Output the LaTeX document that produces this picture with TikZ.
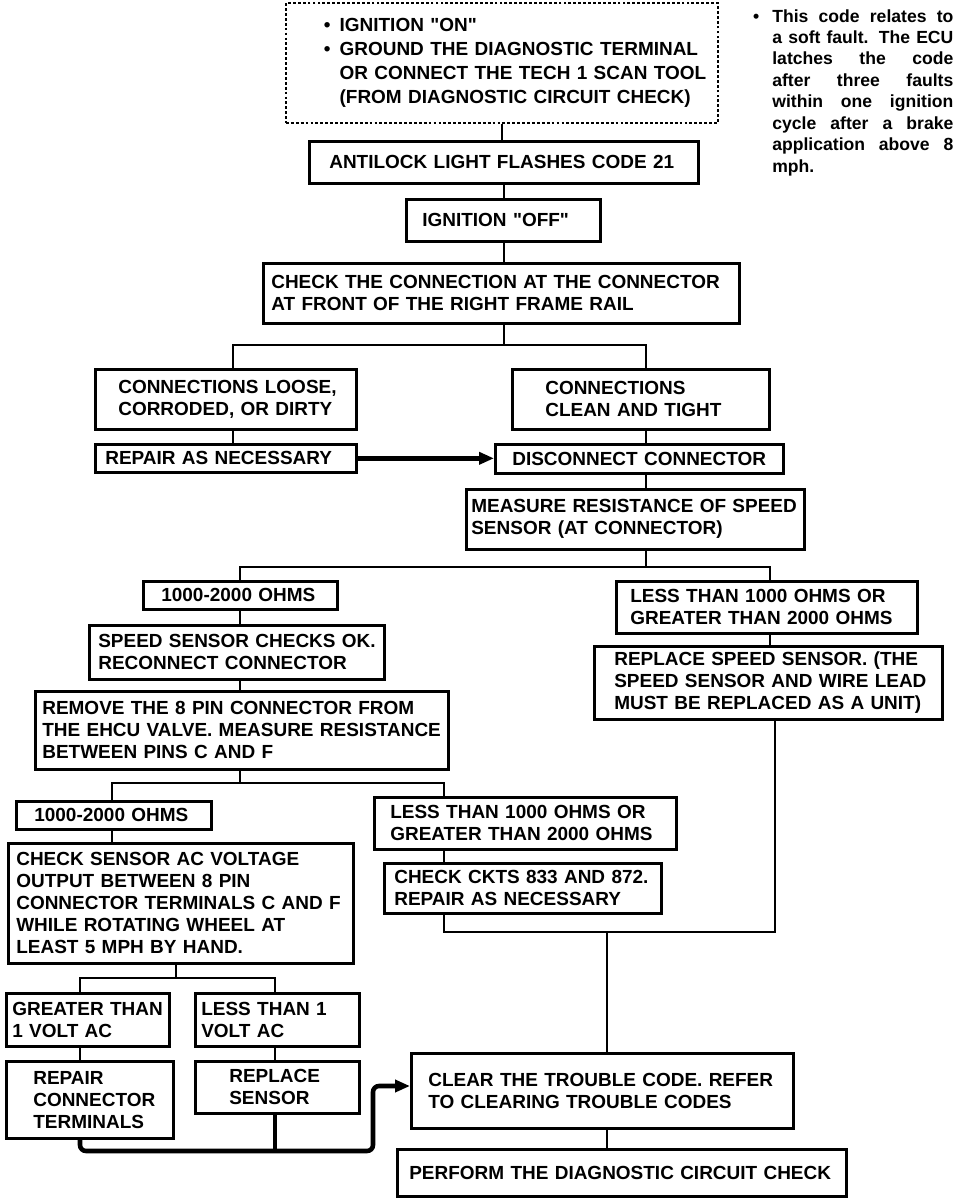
\documentclass[tikz,border=0pt]{standalone}
\usepackage{fontspec}
\setmainfont{Liberation Sans}
\usetikzlibrary{arrows.meta}
\newdimen\pxu \pxu=0.2mm

\begin{document}
\begin{tikzpicture}
[x=0.2mm, y=-0.2mm,
 panel/.style n args={3}{draw, line width=1.5pt, anchor=north west, inner sep=0pt, align=left,
   text width=#1*0.2mm, minimum height=#2*0.2mm,
   font=\fontsize{10.8}{12.5}\selectfont\bfseries,
   execute at begin node={\leftskip=#3\pxu\rightskip=0pt plus 1fil minus 60pt}},
 dotbox/.style={line width=1.1pt, dash pattern=on 1.6pt off 1.2pt},
 note/.style={anchor=north west, inner sep=0pt, text width=181*0.2mm, align=justify,
   font=\fontsize{10}{12.2}\selectfont\bfseries},
 link/.style={line width=1.1pt},
 flow/.style={line width=2.6pt, rounded corners=1.2mm, -{Triangle[length=3mm,width=2.4mm]}}]
\useasboundingbox (0,0) rectangle (960,1198);

\node[panel={432}{120}{38}, dotbox, font=\fontsize{10.8}{13.6}\selectfont\bfseries] (start) at (285,2)
  {\begin{tabular}{@{}l@{\hspace{1.8mm}}l@{}}
   \textbullet & IGNITION \textquotedbl ON\textquotedbl\\
   \textbullet & GROUND THE DIAGNOSTIC TERMINAL\\
   & OR CONNECT THE TECH 1 SCAN TOOL\\
   & (FROM DIAGNOSTIC CIRCUIT CHECK)
   \end{tabular}};
\node[note] (remark) at (772,9) {\llap{\textbullet\hspace{2.6mm}}This code relates to\linebreak
  a soft fault. The ECU\linebreak latches the code\linebreak after three faults\linebreak
  within one ignition\linebreak cycle after a brake\linebreak application above 8\linebreak mph.};

\node[panel={389}{42}{20}] (antilock) at (308,140) {ANTILOCK LIGHT FLASHES CODE 21};
\node[panel={194}{42}{16}] (ignoff) at (405,198) {IGNITION \textquotedbl OFF\textquotedbl};
\node[panel={476}{60}{8}] (chk) at (262,262) {CHECK THE CONNECTION AT THE CONNECTOR\\AT FRONT OF THE RIGHT FRAME RAIL};

\node[panel={261}{60}{23}] (loose) at (94,368) {CONNECTIONS LOOSE,\\CORRODED, OR DIRTY};
\node[panel={257}{60}{33}] (clean) at (511,368) {CONNECTIONS\\CLEAN AND TIGHT};
\node[panel={261}{28}{10}] (repair) at (94,443) {REPAIR AS NECESSARY};
\node[panel={288}{29}{17}] (disc) at (494,443) {DISCONNECT CONNECTOR};
\node[panel={338}{60}{5}] (measure) at (465,488) {MEASURE RESISTANCE OF SPEED\\SENSOR (AT CONNECTOR)};

\node[panel={194}{28}{18}] (ohmsA) at (142,580) {1000-2000 OHMS};
\node[panel={295}{54}{9}] (okA) at (88,624) {SPEED SENSOR CHECKS OK.\\RECONNECT CONNECTOR};
\node[panel={413}{78}{7}] (remove) at (34,690) {REMOVE THE 8 PIN CONNECTOR FROM\\THE EHCU VALVE. MEASURE RESISTANCE\\BETWEEN PINS C AND F};
\node[panel={301}{52}{14}] (rangeA) at (615,580) {LESS THAN 1000 OHMS OR\\GREATER THAN 2000 OHMS};
\node[panel={348}{73}{20}] (replss) at (593,645) {REPLACE SPEED SENSOR. (THE\\SPEED SENSOR AND WIRE LEAD\\MUST BE REPLACED AS A UNIT)};

\node[panel={195}{28}{18}] (ohmsB) at (15,800) {1000-2000 OHMS};
\node[panel={345}{120}{8}] (acv) at (7,842) {CHECK SENSOR AC VOLTAGE\\OUTPUT BETWEEN 8 PIN\\CONNECTOR TERMINALS C AND F\\WHILE ROTATING WHEEL AT\\LEAST 5 MPH BY HAND.};
\node[panel={302}{52}{16}] (rangeB) at (373,796) {LESS THAN 1000 OHMS OR\\GREATER THAN 2000 OHMS};
\node[panel={277}{50}{10}] (ckts) at (383,862) {CHECK CKTS 833 AND 872.\\REPAIR AS NECESSARY};

\node[panel={163}{53}{6}] (gt1) at (5,992) {GREATER THAN\\1 VOLT AC};
\node[panel={164}{53}{6}] (lt1) at (194,992) {LESS THAN 1\\VOLT AC};
\node[panel={167}{77}{27}] (repterm) at (5,1060) {REPAIR\\CONNECTOR\\TERMINALS};
\node[panel={164}{52}{34}] (replsens) at (194,1060) {REPLACE\\SENSOR};
\node[panel={382}{75}{17}] (clear) at (410,1052) {CLEAR THE TROUBLE CODE. REFER\\TO CLEARING TROUBLE CODES};
\node[panel={449}{47}{12}] (perform) at (396,1148) {PERFORM THE DIAGNOSTIC CIRCUIT CHECK};

% junctions
\coordinate (s1) at (504,345); \coordinate (s1l) at (233,345); \coordinate (s1r) at (646,345);
\coordinate (s2) at (646,567); \coordinate (s2l) at (240,567); \coordinate (s2r) at (770,567);
\coordinate (s3) at (240,783); \coordinate (s3l) at (112,783); \coordinate (s3r) at (444,783);
\coordinate (s4) at (176,978); \coordinate (s4l) at (80,978); \coordinate (s4r) at (275,978);
\coordinate (m1) at (607,932); \coordinate (m1l) at (444,932); \coordinate (m1r) at (775,932);
\coordinate (t1) at (80,1151); \coordinate (t2) at (373,1151); \coordinate (t3) at (373,1086);
\coordinate (t4) at (275,1151);

\foreach \from/\to/\x in {start/antilock/502,antilock/ignoff/504,ignoff/chk/504,loose/repair/233,
  clean/disc/646,disc/measure/646,ohmsA/okA/240,okA/remove/240,rangeA/replss/770,ohmsB/acv/112,
  rangeB/ckts/444,gt1/repterm/80,lt1/replsens/275,clear/perform/607}
\draw[link] (\x,0 |- \from.south) -- (\x,0 |- \to.north);

\draw[link] (s1 |- chk.south) -- (s1);
\draw[link] (s1l |- loose.north) -- (s1l) -- (s1r) -- (s1r |- clean.north);
\draw[link] (s2 |- measure.south) -- (s2);
\draw[link] (s2l |- ohmsA.north) -- (s2l) -- (s2r) -- (s2r |- rangeA.north);
\draw[link] (s3 |- remove.south) -- (s3);
\draw[link] (s3l |- ohmsB.north) -- (s3l) -- (s3r) -- (s3r |- rangeB.north);
\draw[link] (s4 |- acv.south) -- (s4);
\draw[link] (s4l |- gt1.north) -- (s4l) -- (s4r) -- (s4r |- lt1.north);
\draw[link] (m1l |- ckts.south) -- (m1l) -- (m1r) -- (m1r |- replss.south);
\draw[link] (m1) -- (m1 |- clear.north);

\draw[flow] (repair.east) -- (repair.east -| disc.west);
\draw[flow] (t1 |- repterm.south) -- (t1) -- (t2) -- (t3) -- (t3 -| clear.west);
\draw[line width=2.6pt] (t4 |- replsens.south) -- (t4);
\end{tikzpicture}
\end{document}
